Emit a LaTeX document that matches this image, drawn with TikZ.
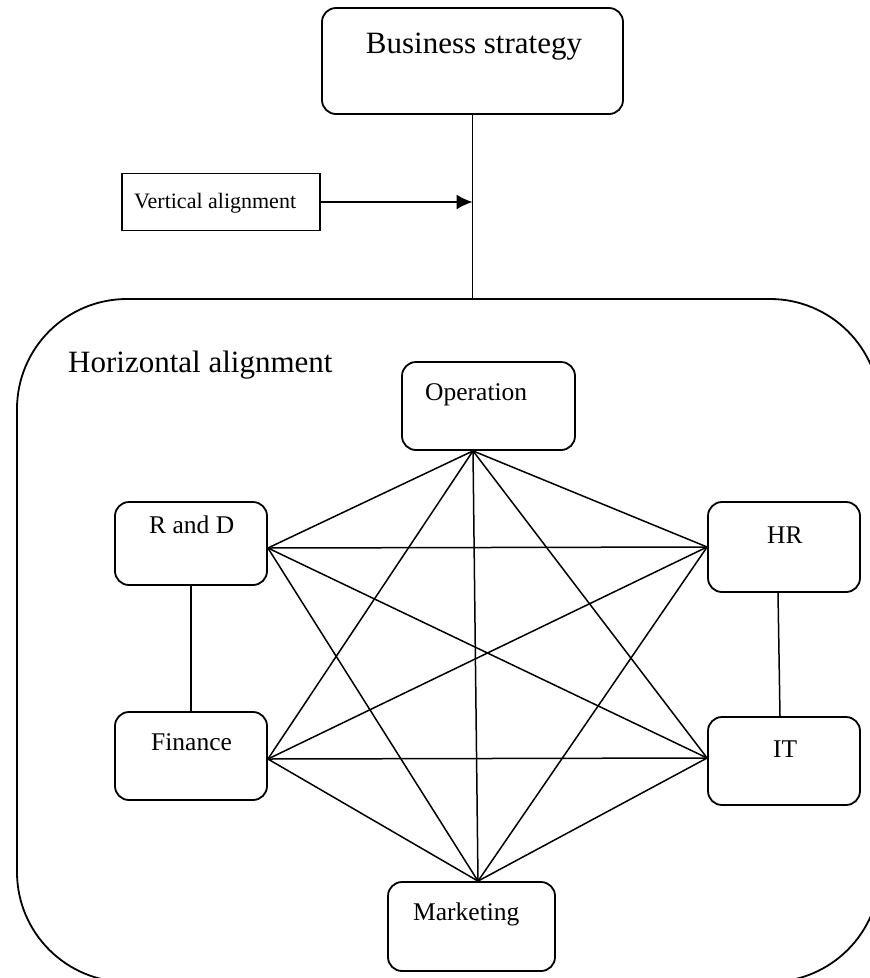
\documentclass[tikz,border=0pt]{standalone}
\usepackage{fontspec}
\setmainfont{Liberation Serif}
\usetikzlibrary{arrows.meta,calc}
\begin{document}
\begin{tikzpicture}[x=1pt,y=-1pt,
  box/.style={draw,line width=1.8pt,rounded corners=14pt,inner sep=0pt},
  lbl/.style={anchor=base west,inner sep=0pt,font=\fontsize{25.5}{26}\selectfont},
  biglbl/.style={inner sep=0pt,font=\fontsize{31}{32}\selectfont},
  link/.style={line width=1.5pt}]
\useasboundingbox (0,0) rectangle (870,978);
\begin{scope}
  \clip (0,0) rectangle (870,978);
  \node[draw,line width=1.8pt,rounded corners=110pt,inner sep=0pt,
        minimum width=863pt,minimum height=683pt] (ha) at (448.5,640.5) {};
\end{scope}
% top
\node[box,minimum width=301pt,minimum height=106pt] (bs) at (472.5,61) {};
\node[biglbl,anchor=base] (bst) at (474,53) {Business strategy};
\node[draw,line width=1.8pt,inner sep=0pt,minimum width=198pt,minimum height=57pt] (va) at (221,202) {};
\node[anchor=base west,inner sep=0pt,font=\fontsize{22}{23}\selectfont] (vat) at (134,208) {Vertical alignment};
\draw[link] (bs.south) -- (bs.south |- ha.north);
\draw[link,-{Latex[length=16pt,width=15pt]}] (va.east) -- (va.east -| bs.south);
\node[biglbl,anchor=base west] (hat) at (68,372) {Horizontal alignment};
% units
\node[box,minimum width=173pt,minimum height=88pt] (op) at (488.5,406) {};
\node[lbl] (opt) at (425,400) {Operation};
\node[box,minimum width=152pt,minimum height=83pt] (rd) at (191,543.5) {};
\node[lbl] (rdt) at (149,533) {R and D};
\node[box,minimum width=152pt,minimum height=88pt] (fi) at (191,756) {};
\node[lbl] (fit) at (151,750) {Finance};
\node[box,minimum width=152pt,minimum height=90pt] (hr) at (784,547) {};
\node[lbl] (hrt) at (767,543) {HR};
\node[box,minimum width=152pt,minimum height=88pt] (it) at (784,761) {};
\node[lbl] (itt) at (773,757) {IT};
\node[box,minimum width=167pt,minimum height=89pt] (mk) at (471.5,926.5) {};
\node[lbl] (mkt) at (413,920) {Marketing};
% connection points
\coordinate (opP) at ([xshift=-15.5pt]op.south);
\coordinate (rdP) at ([yshift=-4.5pt]rd.east);
\coordinate (fiP) at ([yshift=-3pt]fi.east);
\coordinate (hrP) at (hr.west);
\coordinate (itP) at ([yshift=3pt]it.west);
\coordinate (mkP) at ([xshift=6.5pt]mk.north);
\foreach \a/\b in {opP/rdP,opP/hrP,opP/fiP,opP/itP,opP/mkP,
                   rdP/hrP,rdP/itP,rdP/mkP,
                   fiP/hrP,fiP/itP,fiP/mkP,
                   hrP/mkP,itP/mkP}
  \draw[link] (\a) -- (\b);
\draw[link] (rd.south) -- (fi.north);
\draw[link] ([xshift=-6pt]hr.south) -- ([xshift=-4pt]it.north);
\end{tikzpicture}
\end{document}
